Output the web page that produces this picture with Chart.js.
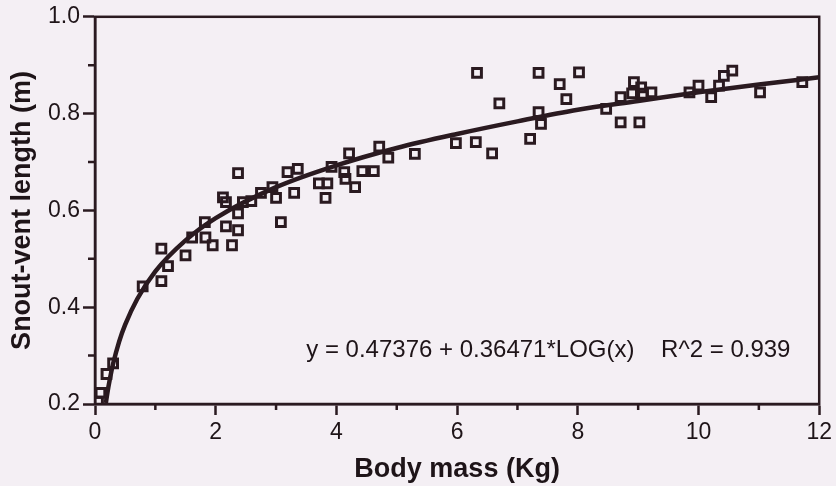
<!DOCTYPE html>
<html>
<head>
<meta charset="utf-8">
<script src="https://cdn.jsdelivr.net/npm/chart.js@4"></script>
<style>
  html, body { margin: 0; padding: 0; background: #f4eff4; }
  #wrap { width: 836px; height: 486px; position: relative; }
</style>
</head>
<body>
<div id="wrap"><canvas id="chart"></canvas></div>
<script>
// measured specimens: body mass (kg) vs snout-vent length (m)
const massKg = [0.05, 0.09, 0.19, 0.30, 0.79, 1.10, 1.21, 1.10, 1.50, 1.61, 1.83, 1.95, 2.27, 1.82,
  2.17, 2.37, 2.37, 3.08, 2.17, 2.12, 2.45, 2.59, 2.75, 2.94, 3.00, 3.19, 3.36, 3.30, 2.37, 3.71,
  3.85, 3.82, 4.13, 4.15, 4.31, 4.43, 4.62, 4.21, 4.71, 4.86, 5.30, 5.98, 6.31, 6.58, 6.33, 6.70,
  7.21, 7.35, 7.35, 7.39, 7.70, 7.81, 8.02, 8.47, 8.71, 8.71, 8.93, 9.05, 8.90, 9.08, 9.22, 9.02,
  9.85, 10.00, 10.21, 10.34, 10.42, 10.56, 11.02, 11.72, 3.92];
const svlM = [0.205, 0.223, 0.262, 0.284, 0.443, 0.454, 0.485, 0.521, 0.507, 0.544, 0.544, 0.528, 0.528, 0.576,
  0.567, 0.559, 0.594, 0.576, 0.617, 0.627, 0.617, 0.619, 0.636, 0.648, 0.626, 0.679, 0.686, 0.636, 0.677, 0.656,
  0.656, 0.626, 0.679, 0.665, 0.648, 0.681, 0.681, 0.718, 0.732, 0.709, 0.717, 0.739, 0.741, 0.718, 0.884, 0.821,
  0.748, 0.884, 0.803, 0.779, 0.861, 0.830, 0.885, 0.810, 0.834, 0.782, 0.865, 0.854, 0.842, 0.841, 0.844, 0.782,
  0.844, 0.858, 0.834, 0.858, 0.878, 0.889, 0.844, 0.865, 0.690];

// fitted curve
const fitMass = [0.18, 0.2, 0.25, 0.3, 0.4, 0.5, 0.7, 1, 1.5, 2, 3, 4, 5, 6, 7, 8, 9, 10, 11, 12];
const fitSvl = [0.202, 0.219, 0.254, 0.283, 0.329, 0.364, 0.417, 0.474, 0.538, 0.584, 0.648, 0.693, 0.729,
  0.758, 0.784, 0.808, 0.826, 0.844, 0.860, 0.875];

const xTickValues = [0, 2, 4, 6, 8, 10, 12];
const xTickLabels = ['0', '2', '4', '6', '8', '10', '12'];
const xMinorTicks = [1, 3, 5, 7, 9, 11];
const yTickValues = [0.2, 0.4, 0.6, 0.8, 1.0];
const yTickLabels = ['0.2', '0.4', '0.6', '0.8', '1.0'];
const yMinorTicks = [0.3, 0.5, 0.7, 0.9];

const equationText = 'y = 0.47376 + 0.36471*LOG(x)    R^2 = 0.939';

const ink = '#2a1a20';
const textInk = '#1e1418';
const fontFamily = '"Liberation Sans", Arial, Helvetica, sans-serif';

// box around the plot, short minor ticks and the equation
const framePlugin = {
  id: 'frame',
  afterDraw(chart) {
    const ctx = chart.ctx;
    const a = chart.chartArea;
    const xs = chart.scales.x, ys = chart.scales.y;
    ctx.save();
    ctx.strokeStyle = ink;
    ctx.lineWidth = 2.5;
    ctx.strokeRect(a.left, a.top, a.right - a.left, a.bottom - a.top);
    ctx.beginPath();
    xMinorTicks.forEach(v => {
      const px = xs.getPixelForValue(v);
      ctx.moveTo(px, a.bottom);
      ctx.lineTo(px, a.bottom + 6);
    });
    yMinorTicks.forEach(v => {
      const py = ys.getPixelForValue(v);
      ctx.moveTo(a.left, py);
      ctx.lineTo(a.left - 7, py);
    });
    ctx.stroke();
    ctx.fillStyle = textInk;
    ctx.font = '24px ' + fontFamily;
    ctx.textBaseline = 'middle';
    ctx.textAlign = 'left';
    ctx.fillText(equationText, xs.getPixelForValue(3.5), ys.getPixelForValue(0.311));
    ctx.restore();
  }
};

const data = {
  datasets: [
    {
      label: 'fit',
      data: fitMass.map((m, i) => ({x: m, y: fitSvl[i]})),
      showLine: true,
      borderColor: ink,
      borderWidth: 4.5,
      pointRadius: 0,
      cubicInterpolationMode: 'monotone',
      order: 2
    },
    {
      label: 'specimens',
      data: massKg.map((m, i) => ({x: m, y: svlM[i]})),
      pointStyle: 'rect',
      pointRadius: 6.2,
      pointBorderWidth: 3,
      borderColor: ink,
      backgroundColor: 'rgba(0,0,0,0)',
      order: 1
    }
  ]
};

const options = {
  responsive: true,
  maintainAspectRatio: false,
  animation: false,
  layout: { padding: { top: 16, right: 13, left: 0, bottom: 0 } },
  plugins: {
    legend: { display: false },
    tooltip: { enabled: false }
  },
  scales: {
    x: {
      type: 'linear',
      min: 0,
      max: 12,
      afterBuildTicks: s => { s.ticks = xTickValues.map(v => ({value: v})); },
      afterFit: s => { s.height = 82; },
      ticks: {
        color: textInk,
        font: { family: fontFamily, size: 23 },
        padding: 4,
        maxRotation: 0,
        callback: (v, i) => xTickLabels[i]
      },
      grid: { drawOnChartArea: false, tickLength: 11, tickWidth: 2.5, tickColor: ink },
      border: { color: ink, width: 2.5 },
      title: {
        display: true,
        text: 'Body mass (Kg)',
        color: textInk,
        font: { family: fontFamily, size: 27, weight: 'bold' },
        padding: { top: 3, bottom: 0 }
      }
    },
    y: {
      type: 'linear',
      min: 0.2,
      max: 1.0,
      afterBuildTicks: s => { s.ticks = yTickValues.map(v => ({value: v})); },
      afterFit: s => { s.width = 95; },
      ticks: {
        color: textInk,
        font: { family: fontFamily, size: 23 },
        padding: 3,
        callback: (v, i) => yTickLabels[i]
      },
      grid: { drawOnChartArea: false, tickLength: 12, tickWidth: 2.5, tickColor: ink },
      border: { color: ink, width: 2.5 },
      title: {
        display: true,
        text: 'Snout-vent length (m)',
        color: textInk,
        font: { family: fontFamily, size: 27, weight: 'bold' },
        padding: { top: 6, bottom: 0 }
      }
    }
  }
};

const ctx = document.getElementById('chart').getContext('2d');
const chart = new Chart(ctx, {
  type: 'scatter',
  data: data,
  options: options,
  plugins: [framePlugin]
});
</script>
</body>
</html>
